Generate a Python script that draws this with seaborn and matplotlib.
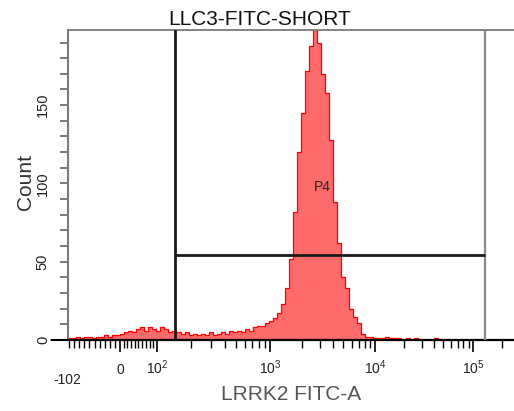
import numpy as np
import pandas as pd
import matplotlib
matplotlib.use("Agg")
import matplotlib.pyplot as plt
import seaborn as sns

# ---- text ----
title = "LLC3-FITC-SHORT"
x_label = "LRRK2 FITC-A"
y_label = "Count"
gate_name = "P4"
x_min_label = "-102"

# ---- axis ranges ----
x_min, x_max = -102.0, 262144.0
y_max = 198

# ---- histogram counts, one per display bin (left to right) ----
counts = [
    1, 1, 2, 1, 2, 2, 1, 2, 2, 3,
    2, 3, 3, 4, 5, 6, 5, 7, 8, 6,
    8, 7, 6, 8, 7, 5, 6, 5, 4, 5,
    3, 4, 3, 4, 3, 5, 3, 4, 5, 4,
    6, 5, 6, 5, 7, 6, 8, 9, 9, 11,
    12, 14, 17, 23, 33, 52, 82, 120, 145, 172,
    188, 205, 190, 170, 158, 128, 88, 62, 40, 33,
    20, 15, 11, 4, 2, 2, 1, 1, 1, 2,
    1, 1, 1, 0, 1, 0, 1, 0, 0, 0,
    0, 1, 0, 0, 0, 0, 0, 0, 0, 0,
    0, 0, 0, 0, 0, 0, 0, 0, 0, 0,
    0,
]

# ---- ticks ----
x_major = [0, 100, 1000, 10000, 100000]
x_major_labels = ["0", "$10^{2}$", "$10^{3}$", "$10^{4}$", "$10^{5}$"]
x_minor = ([-100, -90, -80, -70, -60, -50, -40, -30, -20, -10,
            10, 20, 30, 40, 50, 60, 70, 80, 90]
           + [200, 300, 400, 500, 600, 700, 800, 900]
           + [2000, 3000, 4000, 5000, 6000, 7000, 8000, 9000]
           + [20000, 30000, 40000, 50000, 60000, 70000, 80000, 90000]
           + [200000])
y_major = [0, 50, 100, 150]
y_major_labels = ["0", "50", "100", "150"]
y_minor = [10, 20, 30, 40, 60, 70, 80, 90, 110, 120, 130, 140, 160, 170, 180, 190]

# ---- gate P4 ----
gate_lo, gate_hi = 144.0, 132600.0
gate_level = 54
gate_label_x, gate_label_y = 3130.0, 98


# Biexponential-style display transform: linear around zero, log above 10^2
NEG_SLOPE = 52.0 / 102.0
POS_SLOPE = 37.0 / 100.0
ZERO = 52.0
DECADES = np.array([2.0, 3.0, 4.0, 5.0])
DEC_POS = np.array([89.0, 202.0, 307.0, 405.0])
TOP_SLOPE = 98.0


def biex_fwd(v):
    v = np.asarray(v, dtype=float)
    lin = np.where(v < 0, ZERO + v * NEG_SLOPE, ZERO + v * POS_SLOPE)
    with np.errstate(divide="ignore", invalid="ignore"):
        lg = np.log10(np.where(v >= 100, v, 100.0))
    dec = np.interp(lg, DECADES, DEC_POS)
    dec = np.where(lg > DECADES[-1], DEC_POS[-1] + (lg - DECADES[-1]) * TOP_SLOPE, dec)
    return np.where(v >= 100, dec, lin)


def biex_inv(u):
    u = np.asarray(u, dtype=float)
    lin = np.where(u < ZERO, (u - ZERO) / NEG_SLOPE, (u - ZERO) / POS_SLOPE)
    lg = np.interp(u, DEC_POS, DECADES)
    lg = np.where(u > DEC_POS[-1], DECADES[-1] + (u - DEC_POS[-1]) / TOP_SLOPE, lg)
    with np.errstate(over="ignore", invalid="ignore"):
        dec = 10.0 ** lg
    return np.where(u >= DEC_POS[0], dec, lin)


sns.set_style("ticks")
plt.rcParams["font.family"] = ["Liberation Sans", "DejaVu Sans"]
plt.rcParams["mathtext.fontset"] = "custom"
plt.rcParams["mathtext.rm"] = "Liberation Sans"
plt.rcParams["mathtext.it"] = "Liberation Sans"
plt.rcParams["mathtext.bf"] = "Liberation Sans:bold"

fig = plt.figure(figsize=(5.14, 4.11), dpi=100)
ax = fig.add_axes([68 / 514, 71 / 411, 446 / 514, 310 / 411])
ax.set_xscale("function", functions=(biex_fwd, biex_inv))
ax.set_xlim(x_min, x_max)
ax.set_ylim(0, y_max)

# bins evenly spaced on the display scale (seaborn bins in scale space)
n_bins = len(counts)
u_edges = np.linspace(biex_fwd(x_min), biex_fwd(x_max), n_bins + 1)
centers = biex_inv((u_edges[:-1] + u_edges[1:]) / 2)
hist_df = pd.DataFrame({"signal": centers, "count": np.asarray(counts, float)})

sns.histplot(data=hist_df, x="signal", weights="count",
             bins=[float(e) for e in u_edges],
             element="step", fill=True,
             facecolor="#ff6b6b", edgecolor="#ff0000", linewidth=0.9, alpha=1,
             ax=ax, zorder=2)
ax.set_xlim(x_min, x_max)
ax.set_ylim(0, y_max)

# gate P4
ax.axvline(gate_lo, color="#1a1a1a", lw=2.0, zorder=3)
ax.axvline(gate_hi, color="#8a8a8a", lw=1.6, zorder=3)
ax.hlines(gate_level, gate_lo, gate_hi, color="#1a1a1a", lw=2.0, zorder=3)
ax.text(gate_label_x, gate_label_y, gate_name, ha="center", va="center",
        fontsize=10, color="#222222", zorder=4)

# spines
ax.spines["right"].set_visible(False)
ax.spines["top"].set_color("#7a7a7a")
ax.spines["top"].set_linewidth(1.3)
ax.spines["left"].set_color("#7a7a7a")
ax.spines["left"].set_linewidth(1.5)
ax.spines["bottom"].set_color("black")
ax.spines["bottom"].set_linewidth(1.6)

# x ticks
ax.set_xticks(x_major, x_major_labels, va="baseline")
ax.set_xticks(x_minor, minor=True)
ax.tick_params(axis="x", which="major", length=8.5, width=1.2, color="black",
               labelsize=10, pad=16, labelcolor="#222222")
ax.tick_params(axis="x", which="minor", length=5.5, width=1.0, color="black")

# y ticks
ax.set_yticks(y_major, y_major_labels, rotation=90, va="center")
ax.set_yticks(y_minor, minor=True)
ax.tick_params(axis="y", which="both", length=6, width=1.1, color="#555555",
               labelsize=10.5, pad=7, labelcolor="#222222")
ax.annotate("", xy=(0, 0), xycoords=("axes fraction", "data"),
            xytext=(-12, 0), textcoords="offset points",
            arrowprops=dict(arrowstyle="-", color="black", lw=1.5,
                            shrinkA=0, shrinkB=0), annotation_clip=False)

ax.set_xlabel("")
ax.set_ylabel("")

fig.text(260 / 514, 1 - 25 / 411, title, ha="center", va="baseline",
         fontsize=15, color="#111111")
fig.text(291 / 514, 1 - 400 / 411, x_label, ha="center", va="baseline",
         fontsize=15, color="#555555")
fig.text(25 / 514, 1 - 182 / 411, y_label, ha="center", va="center",
         rotation=90, fontsize=15, color="#333333")
fig.text(67 / 514, 1 - 384 / 411, x_min_label, ha="center", va="baseline",
         fontsize=10, color="#222222")

fig.savefig("out.png", dpi=100)
